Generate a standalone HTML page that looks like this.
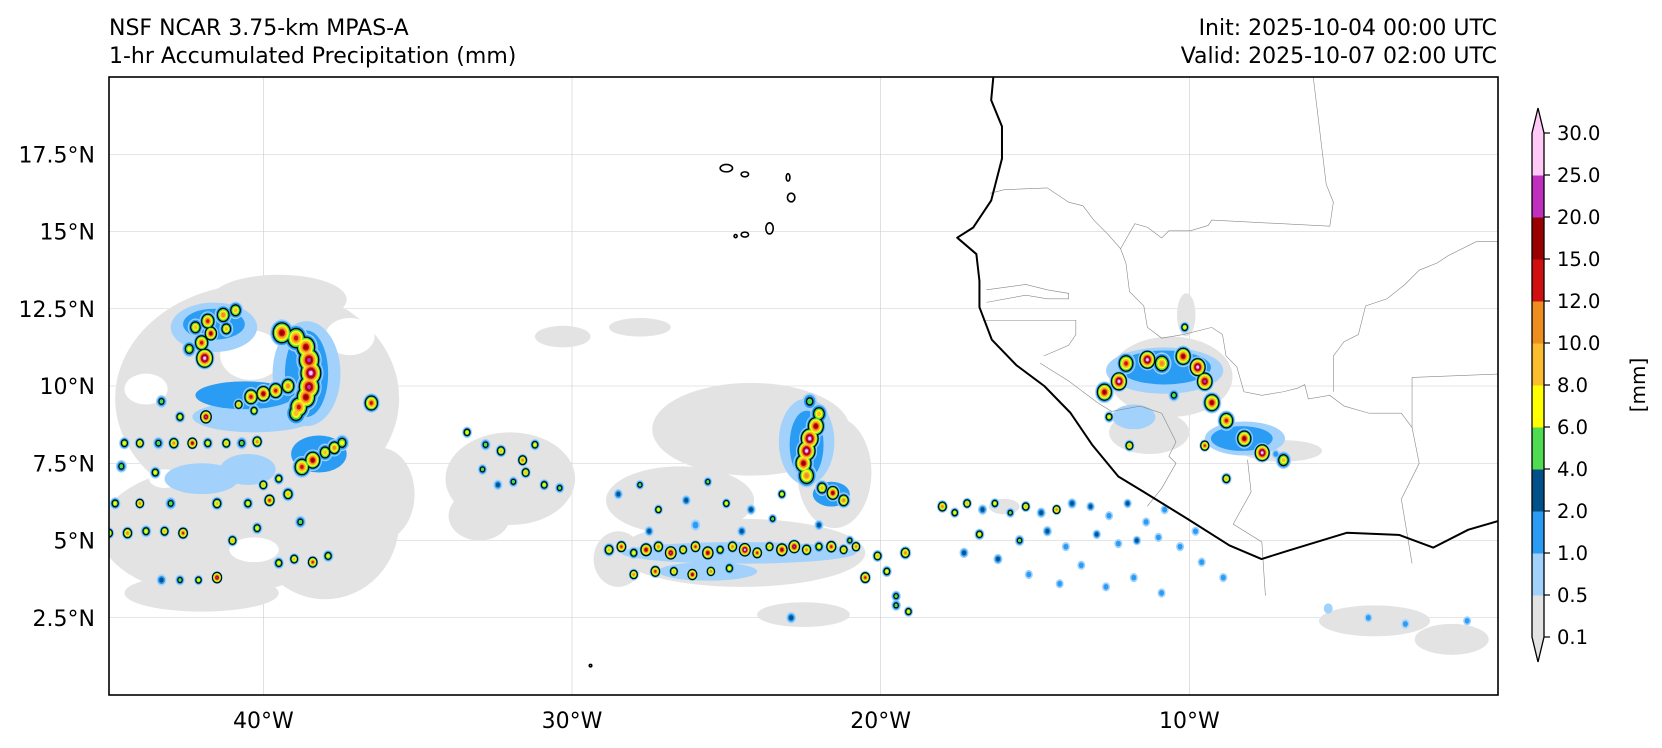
<!DOCTYPE html>
<html><head><meta charset="utf-8"><style>
html,body{margin:0;padding:0;background:#fff;}
svg{display:block;font-family:"DejaVu Sans","Liberation Sans",sans-serif;}
</style></head><body>
<svg id="chart" width="1662" height="748" viewBox="0 0 1662 748" xmlns="http://www.w3.org/2000/svg">
<defs><clipPath id="mapclip"><rect x="109" y="77" width="1389" height="618"/></clipPath></defs>
<text x="109" y="35" font-size="22">NSF NCAR 3.75-km MPAS-A</text>
<text x="109" y="63" font-size="22">1-hr Accumulated Precipitation (mm)</text>
<text x="1497" y="35" font-size="22" text-anchor="end">Init: 2025-10-04 00:00 UTC</text>
<text x="1497" y="63" font-size="22" text-anchor="end">Valid: 2025-10-07 02:00 UTC</text>
<g id="map" clip-path="url(#mapclip)"></g>
<rect x="109" y="77" width="1389" height="618" fill="none" stroke="#000" stroke-width="1.6"/>
<g id="axes"></g>
<g id="cbar"></g>
<text transform="translate(1645,385) rotate(-90)" font-size="20" text-anchor="middle">[mm]</text>
</svg>
<script>
const NS="http://www.w3.org/2000/svg";
const levels=["0.1","0.5","1.0","2.0","4.0","6.0","8.0","10.0","12.0","15.0","20.0","25.0","30.0"];
const colors=["#e3e3e3","#a2d2fb","#2b9cf4","#00518a","#4fdc50","#ffff00","#fbbc2f","#ee8e1f","#d01010","#9a0000","#bf30bf","#ffcaf8"];
const lonTicks=[-40,-30,-20,-10];
const lonTickLabels=["40°W","30°W","20°W","10°W"];
const latTicks=[2.5,5,7.5,10,12.5,15,17.5];
const latTickLabels=["2.5°N","5°N","7.5°N","10°N","12.5°N","15°N","17.5°N"];
const grayAreas=[[-40.2,9.6,4.6,3.7],[-41.5,5.3,3.8,2.1],[-38,5.6,2.4,2.5],[-42,3.3,2.5,0.6],[-36.2,6.5,1.1,1.5],[-39.5,12.8,2.2,0.8],
[-32,7,2.1,1.5],[-33,5.8,1,0.8],[-24.2,8.6,3.2,1.5],[-26.5,6.3,2.4,1.1],[-24.5,4.6,4,1.1],[-21.5,7.2,1.2,1.8],[-28.5,4.4,0.8,0.9],
[-30.3,11.6,0.9,0.35],[-27.8,11.9,1,0.3],[-25.5,6.2,1.2,0.8],[-22.5,2.6,1.5,0.4],
[-10.6,10.3,2.0,1.3],[-10.1,12.3,0.3,0.7],[-7,7.9,1.3,0.35],[-11.3,8.5,1.3,0.7],[-16,6.1,0.5,0.25],[-4,2.4,1.8,0.5],[-1.5,1.8,1.2,0.5]];
const eyeHoles=[[-40.4,11.0,1.0,0.8],[-43.8,9.9,0.7,0.5],[-40.3,4.7,0.8,0.4],[-37.2,11.6,0.8,0.6],[-43.2,7.0,0.5,0.3]];
const halos=[[-38.6,10.4,1.1,1.7,1],[-38.6,10.4,0.7,1.4,2],[-40.6,9.7,1.6,0.45,2],[-41.6,11.9,1.4,0.8,1],[-41.6,12.0,1.0,0.5,2],
[-40.3,9.0,2,0.5,1],[-42,7.0,1.2,0.5,1],[-38.2,7.8,0.9,0.6,2],[-40.5,7.3,0.9,0.5,1],
[-22.4,8.2,0.9,1.4,1],[-22.4,8.1,0.55,1.1,2],[-21.6,6.5,0.6,0.4,2],[-24.6,4.6,3.8,0.35,1],[-25.6,4.0,1.6,0.3,1],
[-10.8,10.5,1.9,0.75,1],[-8.2,8.3,1.3,0.55,1],[-10.8,10.6,1.5,0.55,2],[-8.3,8.3,1.0,0.4,2],[-11.8,9.0,0.7,0.4,1]];
const cells=[
[-39.4,11.72,0.35,9],[-38.94,11.55,0.35,8],[-38.62,11.26,0.35,9],[-38.52,10.84,0.38,10],[-38.46,10.42,0.38,11],[-38.52,9.97,0.38,10],[-38.62,9.64,0.35,9],[-38.85,9.32,0.33,8],[-38.94,9.12,0.3,6],
[-40.4,9.65,0.25,8],[-40.0,9.75,0.25,9],[-39.6,9.85,0.25,8],[-39.2,10.0,0.25,7],
[-42.2,11.9,0.22,6],[-41.8,12.1,0.25,8],[-41.3,12.3,0.25,7],[-40.9,12.45,0.22,6],[-41.9,10.9,0.3,11],[-42.0,11.4,0.25,8],[-42.4,11.2,0.2,5],[-41.7,11.7,0.22,9],[-41.2,11.85,0.2,6],
[-38.75,7.38,0.28,8],[-38.4,7.6,0.28,9],[-38.0,7.85,0.22,6],[-37.7,8.0,0.22,7],[-37.45,8.16,0.2,5],[-36.5,9.45,0.25,8],
[-44.5,8.15,0.15,5],[-44.0,8.15,0.15,6],[-43.4,8.15,0.15,4],[-42.9,8.15,0.17,7],[-42.3,8.15,0.17,9],[-41.8,8.15,0.15,5],[-41.2,8.15,0.15,6],[-40.7,8.15,0.15,4],[-40.2,8.2,0.17,7],
[-42.7,9.0,0.15,5],[-41.86,9.0,0.2,10],[-40.8,9.4,0.15,6],[-40.3,9.2,0.15,5],[-43.3,9.5,0.15,4],
[-44.8,6.2,0.15,5],[-44.0,6.2,0.15,7],[-43.0,6.2,0.15,4],[-41.5,6.2,0.17,6],[-40.5,6.2,0.15,5],[-39.8,6.3,0.18,8],[-39.2,6.5,0.18,6],
[-45,5.24,0.15,6],[-44.4,5.24,0.17,7],[-43.8,5.3,0.15,5],[-43.2,5.3,0.15,6],[-42.6,5.24,0.17,8],
[-43.3,3.72,0.13,3],[-42.7,3.72,0.13,4],[-42.1,3.72,0.13,5],[-41.5,3.8,0.17,10],
[-39.5,4.27,0.15,5],[-39.0,4.4,0.15,6],[-38.4,4.3,0.17,8],[-37.9,4.5,0.15,5],
[-40,6.8,0.15,6],[-39.5,7.0,0.15,5],[-43.5,7.2,0.15,5],[-44.6,7.4,0.15,4],[-41.0,5.0,0.15,6],[-40.2,5.4,0.15,5],[-38.8,5.6,0.15,4],
[-33.4,8.5,0.14,5],[-32.8,8.1,0.14,4],[-32.3,7.9,0.16,6],[-31.6,7.6,0.16,7],[-31.2,8.1,0.14,5],[-32.9,7.3,0.13,4],[-31.9,6.9,0.13,4],[-30.9,6.8,0.14,5],[-31.5,7.2,0.15,6],[-32.4,6.8,0.12,3],[-30.4,6.7,0.13,4],
[-22.4,7.1,0.3,7],[-22.5,7.5,0.3,9],[-22.4,7.9,0.32,11],[-22.3,8.3,0.32,11],[-22.1,8.7,0.3,9],[-22.0,9.1,0.25,6],[-22.3,9.5,0.2,4],
[-21.55,6.54,0.22,9],[-21.9,6.7,0.2,6],[-21.2,6.3,0.2,7],
[-28.8,4.7,0.17,6],[-28.4,4.8,0.17,8],[-28.0,4.6,0.15,5],[-27.6,4.7,0.2,9],[-27.2,4.8,0.17,7],[-26.8,4.6,0.2,10],[-26.4,4.7,0.15,6],[-26.0,4.8,0.17,8],[-25.6,4.6,0.2,9],[-25.2,4.7,0.15,5],[-24.8,4.8,0.17,7],[-24.4,4.7,0.2,11],[-24.0,4.6,0.17,8],[-23.6,4.8,0.15,6],[-23.2,4.7,0.2,9],[-22.8,4.8,0.2,10],[-22.4,4.7,0.17,7],[-22.0,4.8,0.15,5],[-21.6,4.8,0.18,8],[-21.2,4.7,0.15,6],[-20.8,4.8,0.15,7],
[-28.0,3.9,0.15,7],[-27.3,4.0,0.17,8],[-26.7,4.0,0.15,6],[-26.1,3.9,0.17,9],[-25.5,4.0,0.15,7],[-24.9,4.1,0.15,5],
[-20.5,3.8,0.17,8],[-20.1,4.5,0.15,6],[-19.8,4.0,0.14,5],[-19.2,4.6,0.17,7],[-19.5,3.2,0.13,4],
[-28.5,6.5,0.12,3],[-27.8,6.8,0.12,4],[-27.2,6.0,0.13,5],[-26.3,6.3,0.12,3],[-25.6,6.9,0.12,4],[-25.0,6.2,0.13,5],[-24.2,6.0,0.12,3],[-23.5,5.7,0.12,4],[-27.5,5.3,0.12,3],[-26.0,5.5,0.12,2],[-24.5,5.3,0.12,3],[-23.2,6.5,0.13,5],[-22.0,5.5,0.12,3],[-21.0,5.0,0.12,4],[-22.9,2.5,0.13,3],[-19.5,2.9,0.13,4],[-19.1,2.7,0.13,5],
[-18.0,6.1,0.16,7],[-17.6,5.9,0.13,5],[-17.2,6.2,0.14,6],[-16.7,6.0,0.12,3],[-16.3,6.2,0.13,5],[-15.8,5.9,0.12,4],[-15.3,6.1,0.14,6],[-14.8,5.9,0.12,3],[-14.3,6.0,0.14,7],[-13.8,6.2,0.12,3],
[-13.2,6.1,0.11,3],[-12.6,5.8,0.1,2],[-12.0,6.2,0.11,3],[-11.4,5.6,0.1,2],[-10.8,6.0,0.1,2],[-13.0,5.2,0.11,3],[-12.3,4.9,0.1,2],[-11.7,5.0,0.11,3],[-11.0,5.1,0.1,2],[-10.3,4.8,0.1,2],[-9.6,4.3,0.1,2],[-8.9,3.8,0.1,2],[-9.8,5.3,0.1,2],
[-15.5,5.0,0.13,4],[-14.6,5.3,0.12,3],[-14.0,4.8,0.1,2],[-16.8,5.2,0.14,5],[-17.3,4.6,0.12,3],[-16.2,4.4,0.12,3],[-15.2,3.9,0.1,2],[-14.2,3.6,0.1,2],[-13.5,4.2,0.1,2],[-12.7,3.5,0.1,2],[-11.8,3.8,0.1,2],[-10.9,3.3,0.1,2],[-4.2,2.5,0.1,2],[-3.0,2.3,0.1,2],[-5.5,2.8,0.1,1],[-1.0,2.4,0.1,2],[-7.2,7.8,0.1,2],
[-12.75,9.8,0.28,9],[-12.28,10.15,0.28,11],[-12.05,10.73,0.28,8],[-11.36,10.85,0.28,11],[-10.89,10.73,0.28,7],[-10.2,10.96,0.28,9],[-9.73,10.61,0.28,11],[-9.5,10.15,0.28,10],[-9.27,9.46,0.28,9],[-8.8,8.88,0.26,8],[-8.22,8.3,0.26,9],[-7.64,7.84,0.26,11],[-6.95,7.6,0.22,6],
[-11.94,8.07,0.15,6],[-9.5,8.07,0.16,8],[-8.8,7.0,0.15,6],[-10.15,11.9,0.14,5],[-12.6,9.0,0.14,5],[-10.5,9.7,0.15,4]];
const coastLon=[-16.35,-16.42,-16.07,-16.07,-16.42,-17.0,-17.52,-16.9,-16.8,-16.8,-16.4,-15.6,-14.7,-13.85,-13.15,-12.3,-11.44,-10.06,-8.7,-7.66,-6.8,-4.9,-3.2,-2.1,-0.96,0];
const coastLat=[20.0,19.25,18.4,17.36,16.0,15.13,14.8,14.27,13.4,12.55,11.5,10.67,10.0,9.13,8.1,7.07,6.55,5.7,4.84,4.4,4.67,5.25,5.18,4.77,5.35,5.63];
const islands=[[-25.0,17.05,0.2,0.12],[-24.4,16.85,0.12,0.08],[-23.0,16.75,0.06,0.12],[-22.9,16.1,0.12,0.14],[-23.6,15.1,0.12,0.18],[-24.4,14.9,0.12,0.08],[-24.7,14.85,0.05,0.05],[-29.4,0.95,0.04,0.04]];
const borders=[
[[140,345],[180,335],[300,330],[360,370],[400,380],[430,420],[470,460],[505,500],[520,540],[530,620],[570,660],[580,720],[620,750],[680,740],[760,720],[790,740],[800,800],[830,830],[850,900],[900,910],[960,900],[1000,890],[1020,880],[1030,920],[1090,910],[1130,940],[1200,960],[1290,960],[1320,1000],[1340,1100],[1290,1200],[1320,1380]],
[[505,500],[545,430],[580,440],[620,470],[640,450],[700,450],[750,435],[760,420],[1090,437],[1100,370],[1080,320],[1045,30],[1040,0]],
[[1100,900],[1100,800],[1130,760],[1170,740],[1190,660],[1250,640],[1300,600],[1340,560],[1390,540],[1420,520],[1500,480],[1570,480]],
[[130,615],[240,600],[300,615],[360,625],[360,640],[300,640],[240,630],[130,650]],
[[120,700],[380,700],[380,740],[360,770],[290,800]],
[[280,820],[360,870],[440,930],[480,955],[560,940],[620,960],[640,1000],[660,1040],[640,1080],[660,1100],[620,1170],[580,1220]],
[[860,1090],[870,1180],[820,1270],[900,1320],[910,1470]],
[[1320,860],[1570,850]],[[1320,860],[1320,1000]]];

const X0=109,W=1389,Y0=77,H=618;
function xs(lon){return X0+(lon+45)/45*W;}
function ys(lat){return Y0+(20-lat)/20*H;}
const map=document.getElementById('map');
function el(tag,attrs,parent){const e=document.createElementNS(NS,tag);for(const k in attrs)e.setAttribute(k,attrs[k]);parent.appendChild(e);return e;}
const degX=W/45,degY=H/20;

const grid=el('g',{},map);


lonTicks.forEach(l=>{el('line',{x1:xs(l),x2:xs(l),y1:Y0,y2:Y0+H,stroke:'#ccc','stroke-width':0.6},grid);});
latTicks.forEach(l=>{el('line',{x1:X0,x2:X0+W,y1:ys(l),y2:ys(l),stroke:'#ccc','stroke-width':0.6},grid);});

const gl=el('g',{},map);


grayAreas.forEach(a=>{el('ellipse',{cx:xs(a[0]),cy:ys(a[1]),rx:a[2]*degX,ry:a[3]*degY,fill:colors[0]},gl);});
eyeHoles.forEach(a=>{const e=el('ellipse',{cx:xs(a[0]),cy:ys(a[1]),rx:a[2]*degX,ry:a[3]*degY,fill:'#fff'},gl);});
const hl=el('g',{},map);


[1,2].forEach(k=>halos.filter(h=>h[4]===k).forEach(h=>{el('ellipse',{cx:xs(h[0]),cy:ys(h[1]),rx:h[2]*degX,ry:h[3]*degY,fill:colors[k]},hl);}));

const cl=el('g',{},map);


function rad(c,k){const s=1-(k-1)/(c[3]+0.6);return c[2]*s*(1+0.9/(c[3]+1));}
for(let k=1;k<=11;k++){
  const sel=cells.filter(c=>c[3]>=k);
  if(k===4){sel.forEach(c=>{el('ellipse',{cx:xs(c[0]),cy:ys(c[1]),rx:rad(c,k)*degX,ry:rad(c,k)*degY*1.15,fill:'#000',stroke:'#000','stroke-width':2.2},cl);});}
  sel.forEach(c=>{const e=el('ellipse',{cx:xs(c[0]),cy:ys(c[1]),rx:rad(c,k)*degX,ry:rad(c,k)*degY*1.15,fill:colors[k]},cl);
    if(k===1){}});
}

const bl=el('g',{},map);


borders.forEach(b=>{const pts=b.map(p=>xs(-18.08+p[0]/86.3)+','+ys(20.23-p[1]/86.4)).join(' ');el('polyline',{points:pts,fill:'none',stroke:'#888','stroke-width':0.6},bl);});
const cpts=coastLon.map((l,i)=>xs(l)+','+ys(coastLat[i])).join(' ');
const coast=el('polyline',{points:cpts,fill:'none',stroke:'#000','stroke-width':2,'stroke-linejoin':'round'},map);


islands.forEach(a=>{const e=el('ellipse',{cx:xs(a[0]),cy:ys(a[1]),rx:a[2]*degX,ry:a[3]*degY,fill:'none',stroke:'#000','stroke-width':1.6},map);});

const ax=document.getElementById('axes');
lonTicks.forEach((l,i)=>{const t=el('text',{x:xs(l),y:728,'font-size':22,'text-anchor':'middle'},ax);t.textContent=lonTickLabels[i];});
latTicks.forEach((l,i)=>{const t=el('text',{x:95,y:ys(l)+8,'font-size':22,'text-anchor':'end'},ax);t.textContent=latTickLabels[i];});

const cb=document.getElementById('cbar');
const cbX=1532,cbW=12,cbTop=133,cbBot=637;const step=(cbBot-cbTop)/(levels.length-1);
for(let i=0;i<colors.length;i++){const r=el('rect',{x:cbX,y:cbBot-(i+1)*step,width:cbW,height:step+0.5,fill:colors[i]},cb);}
el('polygon',{points:`${cbX},${cbTop} ${cbX+cbW/2},108 ${cbX+cbW},${cbTop}`,fill:colors[11]},cb);
el('polygon',{points:`${cbX},${cbBot} ${cbX+cbW/2},662 ${cbX+cbW},${cbBot}`,fill:colors[0]},cb);
el('polygon',{points:`${cbX},${cbTop} ${cbX+cbW/2},108 ${cbX+cbW},${cbTop} ${cbX+cbW},${cbBot} ${cbX+cbW/2},662 ${cbX},${cbBot}`,fill:'none',stroke:'#000','stroke-width':1.3},cb);
levels.forEach((lv,i)=>{const y=cbBot-i*step;el('line',{x1:cbX+cbW,x2:cbX+cbW+6,y1:y,y2:y,stroke:'#000','stroke-width':1.2},cb);
 const t=el('text',{x:1557,y:y+7,'font-size':19.5},cb);t.textContent=lv;});
</script>
</body></html>
